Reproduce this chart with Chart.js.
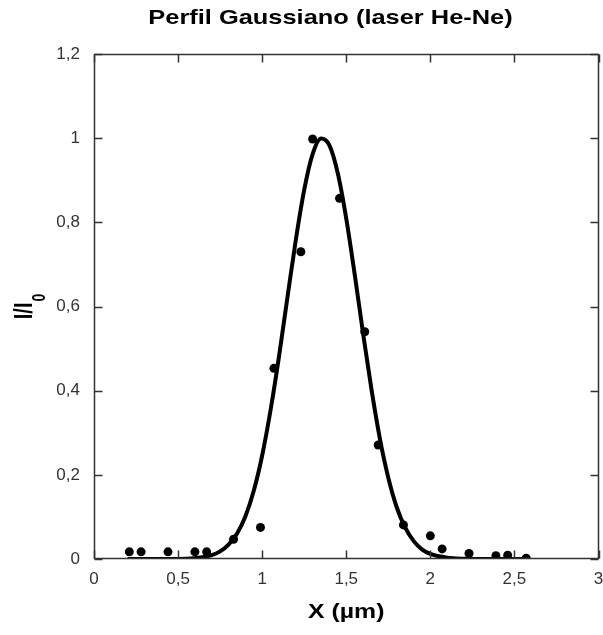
<!DOCTYPE html>
<html>
<head>
<meta charset="utf-8">
<script src="https://cdn.jsdelivr.net/npm/chart.js@4.4.1/dist/chart.umd.min.js"></script>
<style>
  html, body { margin: 0; padding: 0; background: #ffffff; }
  #wrap { width: 603px; height: 635px; }
</style>
</head>
<body>
<div id="wrap"><canvas id="c" width="603" height="635"></canvas></div>
<script>
// ---- Data ----
const chartTitle = 'Perfil Gaussiano (laser He-Ne)';
const xAxisTitle = 'X (\u00b5m)';
const yAxisMain = 'I/I';
const yAxisSub = '0';

const xTicks = [0, 0.5, 1, 1.5, 2, 2.5, 3];
const yTicks = [0, 0.2, 0.4, 0.6, 0.8, 1, 1.2];

// measured points
const pointX = [0.21, 0.28, 0.44, 0.60, 0.67, 0.83, 0.99, 1.07, 1.23, 1.30, 1.46, 1.61, 1.69, 1.84, 2.00, 2.07, 2.23, 2.39, 2.46, 2.57];
const pointY = [0.017, 0.017, 0.017, 0.017, 0.017, 0.047, 0.075, 0.453, 0.730, 0.998, 0.857, 0.540, 0.271, 0.081, 0.055, 0.024, 0.013, 0.008, 0.009, 0.002];

// fitted curve
const curveX = [0.20, 0.30, 0.40, 0.50, 0.60, 0.70, 0.75, 0.80, 0.85, 0.90, 0.95, 1.00, 1.05, 1.10, 1.15, 1.20, 1.25, 1.30, 1.35, 1.40, 1.45, 1.50, 1.55, 1.60, 1.65, 1.70, 1.75, 1.80, 1.85, 1.90, 1.95, 2.00, 2.10, 2.20, 2.30, 2.40, 2.50, 2.58];
const curveY = [0, 0, 0, 0, 0.002, 0.009, 0.018, 0.034, 0.060, 0.101, 0.162, 0.246, 0.354, 0.481, 0.621, 0.758, 0.877, 0.962, 0.999, 0.983, 0.916, 0.809, 0.677, 0.536, 0.403, 0.286, 0.193, 0.123, 0.075, 0.043, 0.023, 0.012, 0.003, 0.0005, 0, 0, 0, 0];

const FONT = '"Liberation Sans", Arial, Helvetica, sans-serif';

function fmt(v) {
  return String(Number(v.toFixed(2))).replace('.', ',');
}

const framePlugin = {
  id: 'framePlugin',
  afterDraw(chart) {
    const ctx = chart.ctx;
    const a = chart.chartArea;
    const xs = chart.scales.x, ys = chart.scales.y;
    const L = Math.round(a.left) + 0.5, R = Math.round(a.right) - 0.5;
    const T = Math.round(a.top) + 0.5, B = Math.round(a.bottom) - 0.5;
    ctx.save();
    ctx.strokeStyle = '#333333';
    ctx.lineWidth = 1.5;
    ctx.beginPath();
    ctx.rect(L, T, R - L, B - T);
    ctx.stroke();
    const tl = 8;
    ctx.beginPath();
    xTicks.forEach(v => {
      const p = Math.round(xs.getPixelForValue(v)) + 0.5;
      ctx.moveTo(p, B); ctx.lineTo(p, B - tl);
      ctx.moveTo(p, T); ctx.lineTo(p, T + tl);
    });
    yTicks.forEach(v => {
      const p = Math.round(ys.getPixelForValue(v)) + 0.5;
      ctx.moveTo(L, p); ctx.lineTo(L + tl, p);
      ctx.moveTo(R, p); ctx.lineTo(R - tl, p);
    });
    ctx.stroke();

    // Title (wide bold face)
    ctx.fillStyle = '#000000';
    ctx.textBaseline = 'alphabetic';
    ctx.font = 'bold 21px ' + FONT;
    ctx.save();
    const tw = ctx.measureText(chartTitle).width;
    const tsx = 1.21;
    ctx.translate(330.5 - tw * tsx / 2, 23.5);
    ctx.scale(tsx, 1);
    ctx.textAlign = 'left';
    ctx.fillText(chartTitle, 0, 0);
    ctx.restore();

    // X axis title
    ctx.save();
    ctx.font = 'bold 20px ' + FONT;
    const xw = ctx.measureText(xAxisTitle).width;
    const xsx = 1.24;
    const xc = (a.left + a.right) / 2;
    ctx.translate(xc - xw * xsx / 2, 618);
    ctx.scale(xsx, 1);
    ctx.textAlign = 'left';
    ctx.fillText(xAxisTitle, 0, 0);
    ctx.restore();

    // Y axis title with subscript
    ctx.save();
    ctx.font = 'bold 20px ' + FONT;
    const mw = ctx.measureText(yAxisMain).width;
    ctx.font = 'bold 14px ' + FONT;
    const sw = ctx.measureText(yAxisSub).width;
    const total = mw + 1 + sw;
    const yc = (a.top + a.bottom) / 2;
    ctx.translate(32, yc + total / 2);
    ctx.rotate(-Math.PI / 2);
    ctx.scale(1, 1.3);
    ctx.textAlign = 'left';
    ctx.font = 'bold 20px ' + FONT;
    ctx.fillText(yAxisMain, 0, 0);
    ctx.font = 'bold 14px ' + FONT;
    ctx.fillText(yAxisSub, mw + 1, 10);
    ctx.restore();

    ctx.restore();
  }
};

const curveData = curveX.map((x, i) => ({ x: x, y: curveY[i] }));
const pointData = pointX.map((x, i) => ({ x: x, y: pointY[i] }));

new Chart(document.getElementById('c'), {
  type: 'scatter',
  data: {
    datasets: [
      {
        label: 'Ajuste',
        data: curveData,
        showLine: true,
        borderColor: '#000000',
        backgroundColor: '#000000',
        borderWidth: 4,
        pointRadius: 0,
        cubicInterpolationMode: 'monotone',
        order: 2
      },
      {
        label: 'Datos',
        data: pointData,
        showLine: false,
        pointRadius: 4.5,
        pointBackgroundColor: '#000000',
        pointBorderWidth: 0,
        order: 1
      }
    ]
  },
  options: {
    responsive: false,
    animation: false,
    devicePixelRatio: 1,
    layout: { padding: { top: 54, right: 4, left: 0, bottom: 0 } },
    plugins: {
      legend: { display: false },
      tooltip: { enabled: false },
      title: { display: false }
    },
    scales: {
      x: {
        type: 'linear',
        min: 0, max: 3,
        grid: { display: false, drawTicks: false },
        border: { display: false },
        afterBuildTicks(scale) { scale.ticks = xTicks.map(v => ({ value: v })); },
        afterFit(scale) {
          scale.height = 76;
          scale.paddingLeft = 0; scale.paddingRight = 0;
          scale.paddingTop = 0; scale.paddingBottom = 0;
        },
        ticks: {
          padding: 10,
          color: '#333333',
          font: { family: FONT, size: 17 },
          maxRotation: 0,
          callback: v => fmt(v)
        }
      },
      y: {
        type: 'linear',
        min: 0, max: 1.2,
        grid: { display: false, drawTicks: false },
        border: { display: false },
        afterBuildTicks(scale) { scale.ticks = yTicks.map(v => ({ value: v })); },
        afterFit(scale) {
          scale.width = 94;
          scale.paddingLeft = 0; scale.paddingRight = 0;
          scale.paddingTop = 0; scale.paddingBottom = 0;
        },
        ticks: {
          padding: 14,
          color: '#333333',
          font: { family: FONT, size: 17 },
          callback: v => fmt(v)
        }
      }
    }
  },
  plugins: [framePlugin]
});
</script>
</body>
</html>
